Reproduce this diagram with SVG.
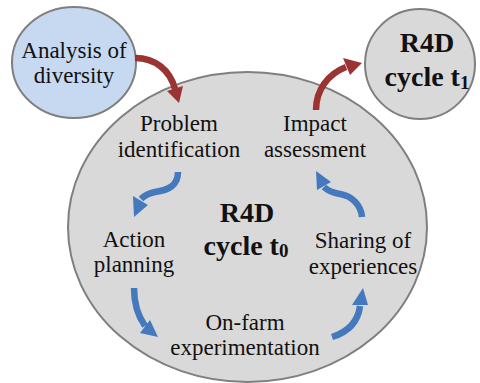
<svg xmlns="http://www.w3.org/2000/svg" width="480" height="383" viewBox="0 0 480 383">
  <style>
    .blob { stroke: #7f7f7f; stroke-width: 2; }
    .gray { fill: #d9d9d9; }
    .blue { fill: #c6d9f0; }
    .lbl { font-family: 'Liberation Serif', 'DejaVu Serif', serif; font-size: 23px; fill: #111; text-anchor: middle; }
    .big { font-family: 'Liberation Serif', 'DejaVu Serif', serif; font-size: 28px; font-weight: bold; fill: #111; text-anchor: middle; }
    .shaft { fill: none; stroke-width: 6.5; stroke-linecap: butt; }
    .red .shaft { stroke: #9b3333; }
    .red .head { fill: #9b3333; }
    .cyc .shaft { stroke: #4479bd; }
    .cyc .head { fill: #4479bd; }
  </style>

  <!-- current cycle -->
  <g id="cycle-t0">
    <ellipse class="blob gray" cx="247.5" cy="227" rx="179.5" ry="155"/>
    <text class="big" x="247" y="222">R4D</text>
    <text class="big" x="246" y="255">cycle t<tspan font-size="19" dy="2">0</tspan></text>
  </g>

  <g id="analysis">
    <ellipse class="blob blue" cx="74" cy="62.5" rx="62" ry="55.5"/>
    <text class="lbl" x="74" y="58">Analysis of</text>
    <text class="lbl" x="74" y="83">diversity</text>
  </g>

  <g id="cycle-t1">
    <ellipse class="blob gray" cx="420" cy="64" rx="55" ry="55"/>
    <text class="big" x="427" y="52">R4D</text>
    <text class="big" x="427" y="86">cycle t<tspan font-size="19" dy="3">1</tspan></text>
  </g>

  <!-- steps of the cycle -->
  <g id="problem">
    <text class="lbl" x="179" y="131">Problem</text>
    <text class="lbl" x="179" y="157">identification</text>
  </g>
  <g id="action">
    <text class="lbl" x="134" y="247">Action</text>
    <text class="lbl" x="134" y="272">planning</text>
  </g>
  <g id="experiment">
    <text class="lbl" x="245" y="330">On-farm</text>
    <text class="lbl" x="245" y="355">experimentation</text>
  </g>
  <g id="sharing">
    <text class="lbl" x="363" y="248">Sharing of</text>
    <text class="lbl" x="363" y="274">experiences</text>
  </g>
  <g id="impact">
    <text class="lbl" x="315" y="131">Impact</text>
    <text class="lbl" x="315" y="157">assessment</text>
  </g>

  <!-- connectors -->
  <g id="connectors">
    <g class="red">
      <path class="shaft" d="M135,58 C155,58 170,70 175,89"/>
      <polygon class="head" points="167,91 183,86 179,103"/>
      <path class="shaft" d="M316,110 C316,90 328,74 346,67"/>
      <polygon class="head" points="343,58 350,75 362,63"/>
    </g>
    <g class="cyc">
      <path class="shaft" d="M178,172 C178,186 168,190 155,192 C150,193 145,195 141,199"/>
      <polygon class="head" points="133,196 148,205 134,217"/>
      <path class="shaft" d="M134,288 C134,305 138,316 145,326"/>
      <polygon class="head" points="150,320 140,333 158,337"/>
      <path class="shaft" d="M332,337 C348,332 358,322 360,306"/>
      <polygon class="head" points="352,305 368,305 363,288"/>
      <path class="shaft" d="M362,217 C361,205 352,196 340,194 C334,193 328,191 324,187"/>
      <polygon class="head" points="316,171 317,190 331,182"/>
    </g>
  </g>
</svg>
